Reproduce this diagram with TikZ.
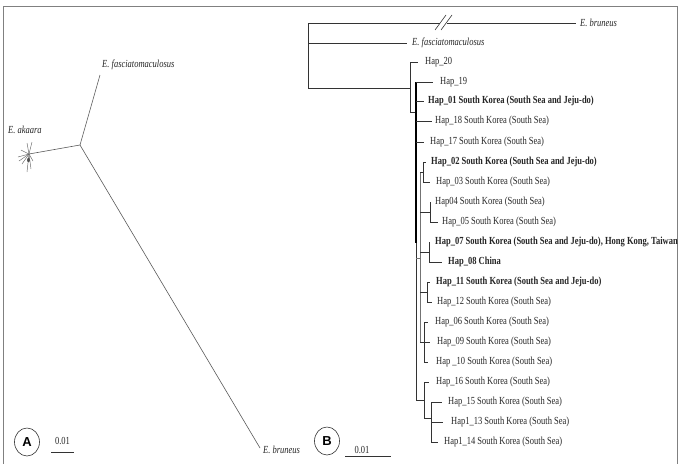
\documentclass[tikz,border=0pt]{standalone}
\usepackage{fontspec}
\usetikzlibrary{shapes.geometric}
\setmainfont{Liberation Serif}
\newfontfamily\sansbold{Liberation Sans}
\newcommand{\cz}[1]{\scalebox{0.85}[1.08]{#1}}
\begin{document}
\begin{tikzpicture}[x=1pt,y=-1pt,
  br/.style={line width=0.6pt, draw=black!80},
  brA/.style={line width=0.6pt, draw=black!65},
  thickbr/.style={line width=1.1pt, draw=black},
  lab/.style={anchor=west, inner sep=0pt, font=\fontsize{10}{12}\selectfont, text=black!85},
  blab/.style={lab, font=\fontsize{10}{12}\selectfont\bfseries},
  ilab/.style={lab, font=\fontsize{10}{12}\selectfont\itshape},
  panel/.style={draw=black!80, line width=0.6pt, ellipse, minimum width=25pt, minimum height=28pt, inner sep=0pt, font=\sansbold\bfseries\fontsize{13}{14}\selectfont},
]
\useasboundingbox (0,0) rectangle (682,463);
\draw[black!50, line width=0.9pt] (3,470) -- (3,6) -- (677,6) -- (677,470);

% ---------------- Panel A ----------------
\coordinate (ac) at (80,145);
\coordinate (af) at (100,75);
\coordinate (aa) at (29,154);
\coordinate (ab) at (260,448);
\draw[brA] (ac) -- (af);
\draw[brA] (ac) -- (aa);
\draw[brA] (ac) -- (ab);
\foreach \p in {(27,143),(32,142),(18,157),(21,150),(22,164),(27,172),(31,169),(19,161),(33,161)}
  \draw[black!60, line width=0.45pt] (aa) -- \p;
\fill[black!70] (28.5,160) ellipse (1.4pt and 2.2pt);
\node[ilab] (laf) at (102,65) {\cz{E. fasciatomaculosus}};
\node[ilab] (laa) at (8,130) {\cz{E. akaara}};
\node[ilab] (lab) at (263,450) {\cz{E. bruneus}};
\node[panel] (pA) at (27,442) {A};
\node[lab, anchor=center] (sA) at (62.5,441) {\cz{0.01}};
\coordinate (sA1) at (51,452);
\coordinate (sA2) at (74,452);
\draw[br] (sA1) -- (sA2);

% ---------------- Panel B ----------------
\node[panel] (pB) at (327,441) {B};
\node[lab, anchor=center] (sB) at (362,450) {\cz{0.01}};
\coordinate (sB1) at (345,456);
\coordinate (sB2) at (391,456);
\draw[br] (sB1) -- (sB2);

% root
\coordinate (r1) at (308,23);
\coordinate (r2) at (308,88);
\draw[br] (r1) -- (r2);
% E. bruneus with break
\coordinate (eb1) at (440,23);
\coordinate (eb2) at (447,23);
\coordinate (eb3) at (576,23);
\draw[br] (r1) -- (eb1);
\draw[br] (eb2) -- (eb3);
\draw[br] (435,30) -- (446,15);
\draw[br] (441,30) -- (452,15);
\node[ilab] (leb) at (580,23) {\cz{E. bruneus}};
% E. fasciatomaculosus
\coordinate (ef0) at (308,43);
\coordinate (ef1) at (407,43);
\draw[br] (ef0) -- (ef1);
\node[ilab] (lef) at (412,43) {\cz{E. fasciatomaculosus}};
% ingroup
\coordinate (n1m) at (410,88);
\draw[br] (r2) -- (n1m);
\coordinate (n1a) at (410,62);
\coordinate (n1b) at (410,112);
\draw[br] (n1a) -- (n1b);
\draw[br] (n1a) -- (418,62);
\node[lab] (h20) at (425,62) {\cz{Hap\_20}};
\coordinate (n2m) at (416,112);
\draw[br] (n1b) -- (n2m);
% node N2
\coordinate (n2a) at (416,82);
\coordinate (n2c) at (416,243);
\coordinate (n2b) at (416,400);
\draw[thickbr] (n2a) -- (n2c);
\draw[br] (n2c) -- (n2b);
\draw[br] (n2a) -- (433,82);
\node[lab] (h19) at (440,82) {\cz{Hap\_19}};
\draw[br] (416,101) -- (424,101);
\node[blab] (h01) at (428,101) {\cz{Hap\_01 South Korea (South Sea and Jeju-do)}};
\draw[br] (416,121) -- (432,121);
\node[lab] (h18) at (435,121) {\cz{Hap\_18 South Korea (South Sea)}};
\draw[br] (416,142) -- (424,142);
\node[lab] (h17) at (430,142) {\cz{Hap\_17 South Korea (South Sea)}};
% node N3 (grey)
\coordinate (n3a) at (420,172);
\coordinate (n3b) at (420,342);
\draw[br, draw=black!55] (n3a) -- (n3b);
\draw[br, draw=black!55] (416,258) -- (420,258);
% Hap_02 / Hap_03
\draw[br] (420,172) -- (423,172);
\draw[br] (423,162) -- (423,182);
\draw[br] (423,162) -- (426,162);
\draw[br] (423,182) -- (430,182);
\node[blab] (h02) at (431,162) {\cz{Hap\_02 South Korea (South Sea and Jeju-do)}};
\node[lab] (h03) at (436,182) {\cz{Hap\_03 South Korea (South Sea)}};
% Hap04 / Hap_05
\draw[br] (420,212) -- (430,212);
\draw[br] (430,202) -- (430,222);
\draw[br] (430,222) -- (438,222);
\node[lab] (h04) at (435,202) {\cz{Hap04 South Korea (South Sea)}};
\node[lab] (h05) at (442,222) {\cz{Hap\_05 South Korea (South Sea)}};
% Hap_07 / Hap_08
\draw[br] (420,252) -- (429,252);
\draw[br] (429,242) -- (429,262);
\draw[br] (429,262) -- (442,262);
\node[blab] (h07) at (435,242) {\cz{Hap\_07 South Korea (South Sea and Jeju-do), Hong Kong, Taiwan}};
\node[blab] (h08) at (448,262) {\cz{Hap\_08 China}};
% Hap_11 / Hap_12
\draw[br] (420,292) -- (427,292);
\draw[br] (427,282) -- (427,302);
\draw[br] (427,282) -- (430,282);
\draw[br] (427,302) -- (432,302);
\node[blab] (h11) at (436,282) {\cz{Hap\_11 South Korea (South Sea and Jeju-do)}};
\node[lab] (h12) at (437,302) {\cz{Hap\_12 South Korea (South Sea)}};
% Hap_06 / 09 / 10
\draw[br] (420,342) -- (424,342);
\draw[br] (424,322) -- (424,362);
\draw[br] (424,322) -- (428,322);
\draw[br] (424,342) -- (430,342);
\draw[br] (424,362) -- (428,362);
\node[lab] (h06) at (435,322) {\cz{Hap\_06 South Korea (South Sea)}};
\node[lab] (h09) at (437,342) {\cz{Hap\_09 South Korea (South Sea)}};
\node[lab] (h10) at (436,362) {\cz{Hap \_10 South Korea (South Sea)}};
% Hap_16 clade
\draw[br] (n2b) -- (424,400);
\draw[br] (424,382) -- (424,418);
\draw[br] (424,382) -- (429,382);
\node[lab] (h16) at (436,382) {\cz{Hap\_16 South Korea (South Sea)}};
\draw[br] (424,418) -- (431,418);
\draw[br] (431,402) -- (431,442);
\draw[br] (431,402) -- (442,402);
\draw[br] (431,422) -- (443,422);
\draw[br] (431,442) -- (438,442);
\node[lab] (h15) at (448,402) {\cz{Hap\_15 South Korea (South Sea)}};
\node[lab] (h13) at (451,422) {\cz{Hap1\_13 South Korea (South Sea)}};
\node[lab] (h14) at (444,442) {\cz{Hap1\_14 South Korea (South Sea)}};
\end{tikzpicture}
\end{document}
